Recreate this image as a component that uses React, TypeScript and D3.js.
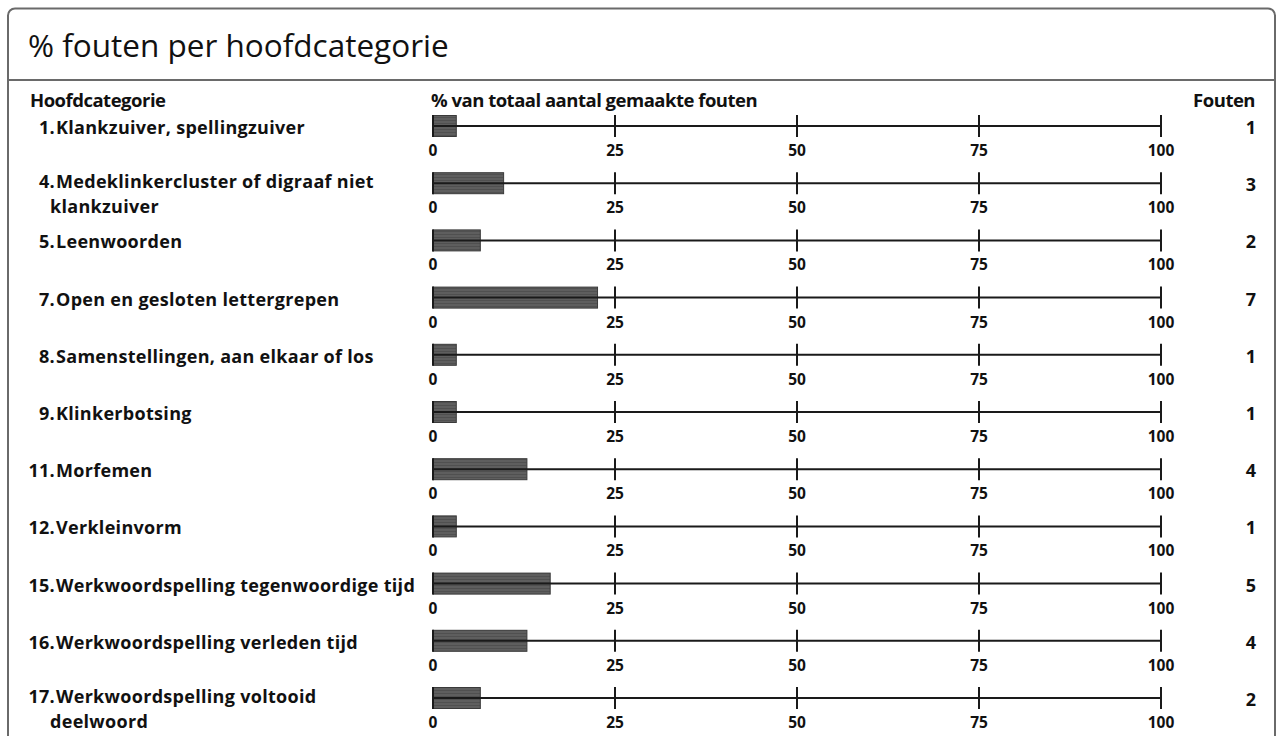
import React from "react";
import * as d3 from "d3";

const title = "% fouten per hoofdcategorie";
const headerLeft = "Hoofdcategorie";
const headerMid = "% van totaal aantal gemaakte fouten";
const headerRight = "Fouten";

const numbers = ["1.", "4.", "5.", "7.", "8.", "9.", "11.", "12.", "15.", "16.", "17."];
const labelLines: string[][] = [
  ["Klankzuiver, spellingzuiver"],
  ["Medeklinkercluster of digraaf niet", "klankzuiver"],
  ["Leenwoorden"],
  ["Open en gesloten lettergrepen"],
  ["Samenstellingen, aan elkaar of los"],
  ["Klinkerbotsing"],
  ["Morfemen"],
  ["Verkleinvorm"],
  ["Werkwoordspelling tegenwoordige tijd"],
  ["Werkwoordspelling verleden tijd"],
  ["Werkwoordspelling voltooid", "deelwoord"],
];
const percentages = [3.2, 9.7, 6.5, 22.6, 3.2, 3.2, 12.9, 3.2, 16.1, 12.9, 6.5];
const counts = [1, 3, 2, 7, 1, 1, 4, 1, 5, 4, 2];
const tickValues = [0, 25, 50, 75, 100];

const W = 1278;
const H = 736;
const labelFont = "'Open Sans', sans-serif";

export default function App() {
  const x = d3.scaleLinear().domain([0, 100]).range([433, 1161]);
  const y = d3
    .scalePoint<string>()
    .domain(numbers)
    .range([126, 698]);
  const barH = 21;

  return (
    <svg
      width={W}
      height={H}
      style={{ position: "absolute", left: 0, top: 0, background: "#fff" }}
    >
      <defs>
        <pattern id="stripes" width="4" height="3" patternUnits="userSpaceOnUse">
          <rect width="4" height="3" fill="#5e5e5e" />
          <rect width="4" height="1" fill="#505050" />
        </pattern>
      </defs>
      <rect x={8} y={8.5} width={1267} height={800} rx={7} fill="#fff" stroke="#6a6a6a" strokeWidth={2} />
      <line x1={8} x2={1275} y1={80} y2={80} stroke="#6a6a6a" strokeWidth={2} />
      <text
        x={28}
        y={57}
        fontFamily="'Open Sans', sans-serif"
        fontSize={31.5}
        fill="#111"
      >
        {title}
      </text>

      <g fontFamily={labelFont} fontWeight={700} fill="#111" letterSpacing={-0.5} fontSize={18.5}>
        <text x={30} y={107}>{headerLeft}</text>
        <text x={431} y={107}>{headerMid}</text>
        <text x={1255} y={107} textAnchor="end">{headerRight}</text>
      </g>

      {numbers.map((n, i) => {
        const cy = y(n)!;
        const wrapped = labelLines[i].length > 1;
        const base = wrapped ? cy + 5 : cy + 8;
        return (
          <g key={n}>
            <g fontFamily={labelFont} fontWeight={700} fontSize={18} fill="#111" letterSpacing={0.3}>
              <text x={55} y={base} textAnchor="end">{n}</text>
              {labelLines[i].map((l, j) => (
                <text key={j} x={j === 0 ? 56 : 50} y={base + j * 25}>{l}</text>
              ))}
            </g>
            <rect
              x={x(0)}
              y={cy - barH / 2}
              width={x(percentages[i]) - x(0)}
              height={barH}
              fill="url(#stripes)"
              stroke="#3a3a3a"
              strokeWidth={1}
            />
            <line x1={x(0)} x2={x(100)} y1={cy} y2={cy} stroke="#1a1a1a" strokeWidth={2} />
            {tickValues.map((t) => (
              <g key={t}>
                <line x1={x(t)} x2={x(t)} y1={cy - 11} y2={cy + 11} stroke="#1a1a1a" strokeWidth={2} />
                <text
                  x={x(t)}
                  y={cy + 30}
                  textAnchor="middle"
                  fontFamily={labelFont}
                  fontWeight={700}
                  fontSize={15.5}
                  fill="#111"
                >
                  {t}
                </text>
              </g>
            ))}
            <text
              x={1256}
              y={cy + 8}
              textAnchor="end"
              fontFamily={labelFont}
              fontWeight={700}
              fontSize={18}
              fill="#111"
            >
              {counts[i]}
            </text>
          </g>
        );
      })}
    </svg>
  );
}
